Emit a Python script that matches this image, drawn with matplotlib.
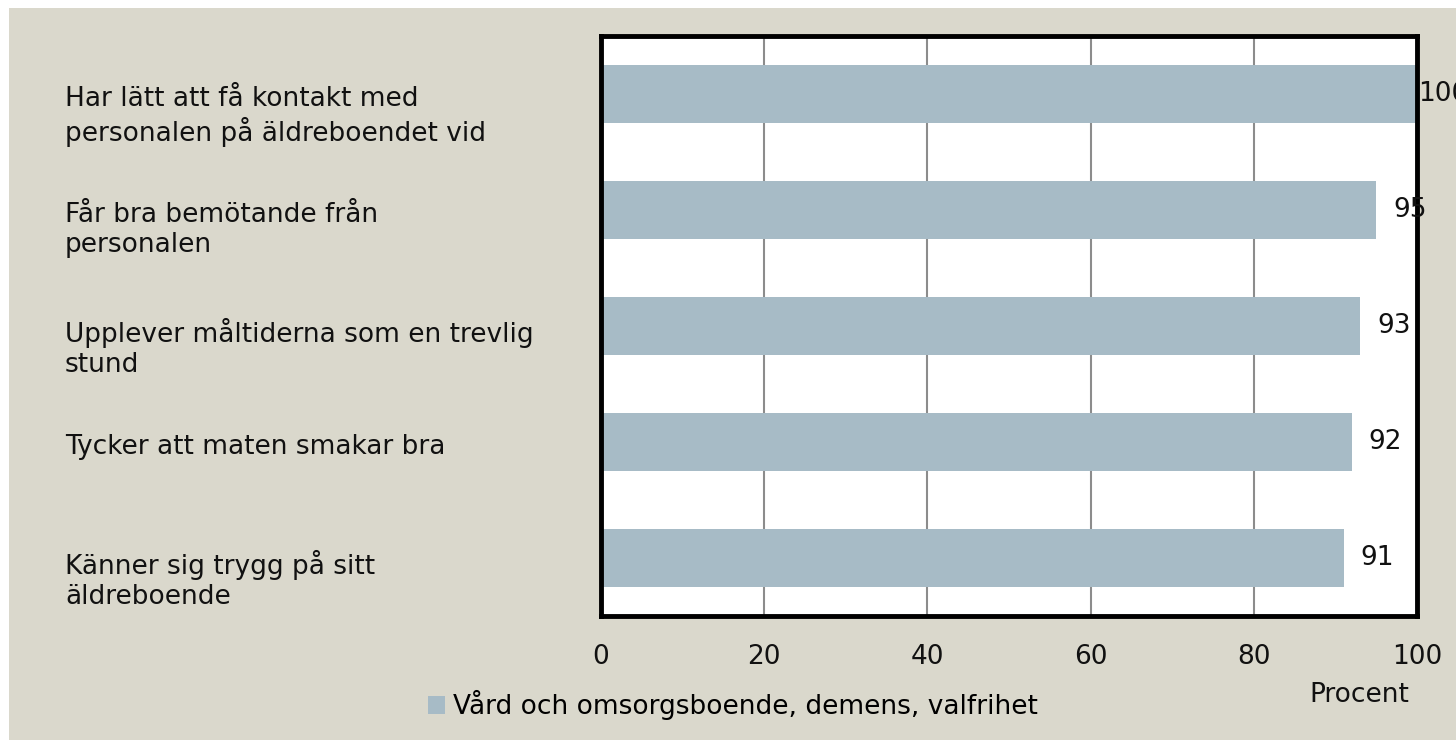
import matplotlib
matplotlib.use("Agg")
import matplotlib.pyplot as plt
from matplotlib.patches import Rectangle
from matplotlib.transforms import blended_transform_factory, ScaledTranslation

categories = [
    "Har lätt att få kontakt med\npersonalen på äldreboendet vid",
    "Får bra bemötande från\npersonalen",
    "Upplever måltiderna som en trevlig\nstund",
    "Tycker att maten smakar bra",
    "Känner sig trygg på sitt\näldreboende",
]
values = [100, 95, 93, 92, 91]
series_name = "Vård och omsorgsboende, demens, valfrihet"
xticks = [0, 20, 40, 60, 80, 100]
xlabel = "Procent"

W, H, DPI = 1456, 740, 100
bg = "#dad8cc"
bar_color = "#a7bbc6"
FS = 19

plt.rcParams['font.family'] = ['DejaVu Sans']
fig = plt.figure(figsize=(W / DPI, H / DPI), dpi=DPI, facecolor="white")
fig.patches.append(Rectangle((9 / W, 0), 1 - 9 / W, 1 - 8 / H, transform=fig.transFigure,
                             facecolor=bg, edgecolor="none", zorder=-10))

ax_l, ax_r, ax_t, ax_b = 601, 1417, 36, 616
ax = fig.add_axes([ax_l / W, 1 - ax_b / H, (ax_r - ax_l) / W, (ax_b - ax_t) / H])
ax.set_facecolor("white")

ypos = list(range(len(categories)))
bars = ax.barh(ypos, values, height=0.5, color=bar_color, label=series_name, zorder=2)
ax.set_xlim(0, 100)
ax.set_ylim(len(categories) - 0.5, -0.5)

ax.set_xticks(xticks)
ax.set_xticklabels([str(t) for t in xticks], fontsize=FS, color="#111111")
ax.tick_params(axis='x', length=0, pad=20)
ax.set_yticks([])
for x in xticks[1:-1]:
    ax.axvline(x, color="#8c8c8c", lw=1.5, zorder=1)
for s in ax.spines.values():
    s.set_linewidth(3.5)
    s.set_color("black")
    s.set_zorder(5)

# value labels
for y, v in zip(ypos, values):
    off = 1 / DPI if v >= 100 else 17 / DPI
    tr = ax.transData + ScaledTranslation(off, 0, fig.dpi_scale_trans)
    ax.text(v, y, str(v), transform=tr, ha='left', va='center', fontsize=FS,
            color="#111111", zorder=6, clip_on=False)

# category labels
tr_lab = blended_transform_factory(fig.transFigure, ax.transData) + ScaledTranslation(0, 8 / DPI, fig.dpi_scale_trans)
for y, c in zip(ypos, categories):
    fig.text(65 / W, y, c, transform=tr_lab, ha='left', va='top', fontsize=FS,
             color="#111111", linespacing=1.2)

fig.text(1359 / W, 1 - 695 / H, xlabel, ha='center', va='center', fontsize=FS, color="#111111")

leg = fig.legend(handles=[bars], labels=[series_name], loc='center left',
                 bbox_to_anchor=(428 / W, 1 - 705 / H), frameon=False, fontsize=FS,
                 handlelength=0.65, handleheight=0.65, handletextpad=0.3, borderaxespad=0,
                 borderpad=0)

fig.savefig("out.png", dpi=DPI, facecolor=fig.get_facecolor())
